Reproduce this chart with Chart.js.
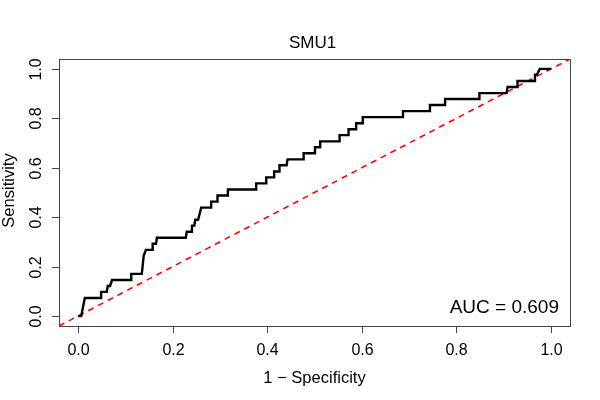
<!DOCTYPE html>
<html><head><meta charset="utf-8">
<script src="https://cdn.jsdelivr.net/npm/chart.js@4"></script>
<style>html,body{margin:0;padding:0;background:#fff;}</style>
</head><body>
<canvas id="c" width="600" height="400" style="width:600px;height:400px;display:block"></canvas>
<script>
const chartTitle = "SMU1";
const xAxisTitle = "1 \u2212 Specificity";
const yAxisTitle = "Sensitivity";
const aucLabel = "AUC = 0.609";
const tickValues = [0, 0.2, 0.4, 0.6, 0.8, 1.0];
const tickLabels = ["0.0", "0.2", "0.4", "0.6", "0.8", "1.0"];

// ROC curve vertices: 1 - specificity (x) and sensitivity (y)
const fpr = [0, 0.007, 0.0145, 0.049, 0.049, 0.061, 0.063, 0.068, 0.072, 0.1127, 0.1127, 0.135, 0.139, 0.1436,
  0.158, 0.158, 0.165, 0.167, 0.228, 0.230, 0.239, 0.241, 0.246, 0.248, 0.254, 0.2605, 0.2816, 0.2816,
  0.295, 0.295, 0.317, 0.317, 0.3767, 0.3767, 0.398, 0.398, 0.4147, 0.4147, 0.426, 0.426, 0.441, 0.443,
  0.477, 0.477, 0.500, 0.501, 0.512, 0.512, 0.553, 0.553, 0.572, 0.572, 0.588, 0.588, 0.602, 0.602,
  0.687, 0.687, 0.744, 0.744, 0.776, 0.776, 0.8486, 0.8486, 0.906, 0.908, 0.929, 0.929, 0.966, 0.966,
  0.970, 0.976, 1.0];
const tpr = [0, 0, 0.073, 0.073, 0.098, 0.098, 0.122, 0.122, 0.146, 0.146, 0.171, 0.171, 0.244, 0.268,
  0.268, 0.293, 0.293, 0.317, 0.317, 0.341, 0.341, 0.366, 0.366, 0.390, 0.390, 0.439, 0.439, 0.463,
  0.463, 0.488, 0.488, 0.512, 0.512, 0.537, 0.537, 0.561, 0.561, 0.585, 0.585, 0.610, 0.610, 0.634,
  0.634, 0.659, 0.659, 0.683, 0.683, 0.707, 0.707, 0.732, 0.732, 0.756, 0.756, 0.780, 0.780, 0.805,
  0.805, 0.829, 0.829, 0.854, 0.854, 0.878, 0.878, 0.902, 0.902, 0.927, 0.927, 0.951, 0.951, 0.976,
  0.976, 1.0, 1.0];

// reference diagonal
const refX = [-0.04, 1.04];
const refY = [-0.04, 1.04];

const FONT = "'Liberation Sans', Arial, Helvetica, sans-serif";

const rPlot = {
  id: 'rPlot',
  afterDraw(chart) {
    const ctx = chart.ctx, a = chart.chartArea;
    const xs = chart.scales.x, ys = chart.scales.y;
    ctx.save();
    ctx.strokeStyle = '#444';
    ctx.lineWidth = 1;
    ctx.strokeRect(a.left + 0.5, a.top + 0.5, a.right - a.left, a.bottom - a.top);
    ctx.fillStyle = '#000';
    ctx.font = '16px ' + FONT;
    // x ticks
    ctx.textAlign = 'center';
    ctx.textBaseline = 'alphabetic';
    tickValues.forEach((v, i) => {
      const px = Math.round(xs.getPixelForValue(v)) + 0.5;
      ctx.beginPath(); ctx.moveTo(px, a.bottom); ctx.lineTo(px, a.bottom + 7); ctx.stroke();
      ctx.fillText(tickLabels[i], px, 355);
    });
    // y ticks
    tickValues.forEach((v, i) => {
      const py = Math.round(ys.getPixelForValue(v)) + 0.5;
      ctx.beginPath(); ctx.moveTo(a.left, py); ctx.lineTo(a.left - 7, py); ctx.stroke();
      ctx.save();
      ctx.translate(41, py);
      ctx.rotate(-Math.PI / 2);
      ctx.fillText(tickLabels[i], 0, 0);
      ctx.restore();
    });
    // axis titles
    ctx.font = '16.5px ' + FONT;
    const cx = (a.left + a.right) / 2, cy = (a.top + a.bottom) / 2;
    ctx.fillText(xAxisTitle, cx, 383);
    ctx.save();
    ctx.translate(14, cy - 2);
    ctx.rotate(-Math.PI / 2);
    ctx.fillText(yAxisTitle, 0, 0);
    ctx.restore();
    // title
    ctx.font = '17px ' + FONT;
    ctx.fillText(chartTitle, cx - 2, 48);
    // AUC
    ctx.font = '19px ' + FONT;
    ctx.textAlign = 'right';
    ctx.fillText(aucLabel, 559, 313);
    ctx.restore();
  }
};

new Chart(document.getElementById('c'), {
  type: 'line',
  data: {
    datasets: [
      {
        label: 'reference',
        data: refX.map((x, i) => ({ x: x, y: refY[i] })),
        borderColor: '#ff0000',
        borderWidth: 1.6,
        borderDash: [6, 5],
        pointRadius: 0,
        fill: false,
        order: 2
      },
      {
        label: 'ROC',
        data: fpr.map((x, i) => ({ x: x, y: tpr[i] })),
        borderColor: '#000000',
        borderWidth: 2.4,
        pointRadius: 0,
        fill: false,
        tension: 0,
        cubicInterpolationMode: 'default',
        borderJoinStyle: 'miter',
        borderCapStyle: 'butt',
        order: 1
      }
    ]
  },
  options: {
    responsive: false,
    devicePixelRatio: 1,
    animation: false,
    layout: { padding: { left: 59, top: 59, right: 30, bottom: 74 } },
    scales: {
      x: { type: 'linear', min: -0.04, max: 1.04, display: false },
      y: { type: 'linear', min: -0.04, max: 1.04, display: false }
    },
    plugins: { legend: { display: false }, tooltip: { enabled: false }, title: { display: false } }
  },
  plugins: [rPlot]
});
</script>
</body></html>
